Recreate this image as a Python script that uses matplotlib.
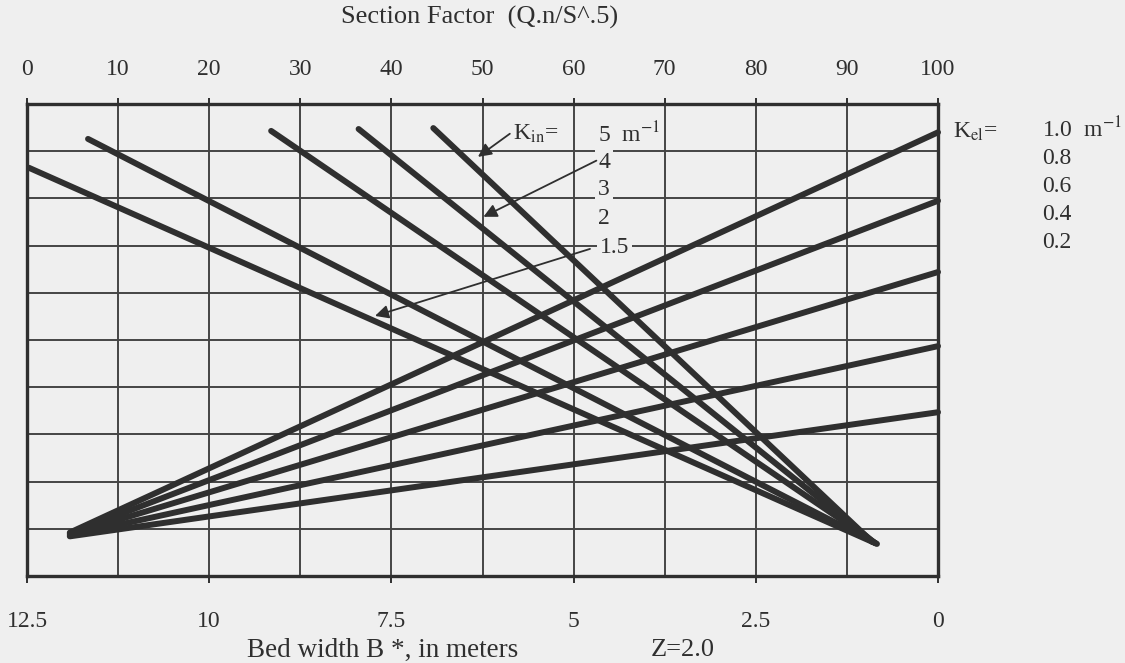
import matplotlib
matplotlib.use('Agg')
import matplotlib.pyplot as plt
import numpy as np

plt.rcParams['font.family'] = ['Liberation Serif', 'DejaVu Serif']
plt.rcParams['mathtext.fontset'] = 'stix'

# ---------------- data ----------------
section_factor_ticks = [0, 10, 20, 30, 40, 50, 60, 70, 80, 90, 100]
bed_width_ticks = [12.5, 10, 7.5, 5, 2.5, 0]
bed_width_labels = ['12.5', '10', '7.5', '5', '2.5', '0']
y_grid = [0, 1, 2, 3, 4, 5, 6, 7, 8, 9, 10]

# K_in family (descending lines): start point / end point in (section factor, chart units)
k_in_labels = ['5', '4', '3', '2', '1.5']
k_in_x0 = [44.6, 36.4, 26.8, 6.7, 0.2]
k_in_y0 = [9.49, 9.47, 9.43, 9.26, 8.65]
k_in_x1 = [92.8, 93.0, 93.1, 93.2, 93.3]
k_in_y1 = [0.72, 0.71, 0.70, 0.69, 0.68]

# K_el family (ascending lines)
k_el_labels = ['1.0', '0.8', '0.6', '0.4', '0.2']
k_el_x0 = [4.7, 4.7, 4.7, 4.7, 4.7]
k_el_y0 = [0.92, 0.90, 0.88, 0.86, 0.84]
k_el_x1 = [100, 100, 100, 100, 100]
k_el_y1 = [9.40, 7.95, 6.44, 4.87, 3.47]

paper = '#efefef'
ink = '#2f2f2f'

fig = plt.figure(figsize=(11.25, 6.63), dpi=100, facecolor=paper)
ax = fig.add_axes([27/1125, 1-576/663, (938-27)/1125, (576-104)/663])
ax.set_facecolor(paper)
ax.set_xlim(0, 100)
ax.set_ylim(0, 10)

# grid
ax.set_axisbelow(True)
ax.set_xticks(section_factor_ticks)
ax.set_yticks(y_grid)
ax.grid(True, color='#454545', lw=1.4)
ax.tick_params(axis='y', left=False, labelleft=False)
ax.xaxis.tick_top()
ax.tick_params(axis='x', top=True, bottom=False, direction='out', length=4,
               width=1.4, color=ink, pad=13, labelsize=17, labelcolor=ink)
for s in ax.spines.values():
    s.set_linewidth(2.4)
    s.set_color(ink)

# bottom axis : bed width
sec = ax.secondary_xaxis('bottom', functions=(lambda sf: 12.5 - 0.125 * np.asarray(sf),
                                              lambda b: (12.5 - np.asarray(b)) * 8.0))
sec.set_xticks(bed_width_ticks)
sec.set_xticklabels(bed_width_labels)
sec.tick_params(direction='out', length=5, width=1.4, color=ink, pad=20,
                labelsize=17, labelcolor=ink)
sec.spines['bottom'].set_visible(False)

# lines
for x0, y0, x1, y1 in zip(k_in_x0, k_in_y0, k_in_x1, k_in_y1):
    ax.plot([x0, x1], [y0, y1], color=ink, lw=4.3, solid_capstyle='round', zorder=3)
for x0, y0, x1, y1 in zip(k_el_x0, k_el_y0, k_el_x1, k_el_y1):
    ax.plot([x0, x1], [y0, y1], color=ink, lw=4.3, solid_capstyle='round', zorder=3,
            clip_on=False)

# K_in labels
box = dict(facecolor=paper, edgecolor='none', pad=2)
ax.text(53.3, 9.36, r'K$_{\mathrm{in}}$=', fontsize=17, color=ink, va='center', ha='left',
        bbox=box, zorder=1)
ax.text(62.7, 9.36, r'5  m$^{-1}$', fontsize=17, color=ink, va='center', ha='left',
        bbox=box, zorder=1)
ax.text(62.7, 8.77, k_in_labels[1], fontsize=17, color=ink, va='center', ha='left',
        bbox=box, zorder=1)
ax.text(62.7, 8.18, k_in_labels[2], fontsize=17, color=ink, va='center', ha='left',
        bbox=box, zorder=1)
ax.text(62.7, 7.58, k_in_labels[3], fontsize=17, color=ink, va='center', ha='left',
        bbox=box, zorder=1)
ax.text(62.9, 6.97, k_in_labels[4], fontsize=17, color=ink, va='center', ha='left',
        bbox=box, zorder=1)

arrow = dict(arrowstyle='-|>', lw=1.3, color=ink, mutation_scale=20, shrinkA=0, shrinkB=0)
ax.annotate('', xy=(49.5, 8.88), xytext=(53.0, 9.37), arrowprops=arrow, zorder=4)
ax.annotate('', xy=(50.1, 7.61), xytext=(62.5, 8.80), arrowprops=arrow, zorder=4)
ax.annotate('', xy=(38.2, 5.51), xytext=(61.8, 6.93), arrowprops=arrow, zorder=4)

# K_el labels (outside right)
fig.text(953/1125, 1-132/663, r'K$_{\mathrm{el}}$=', fontsize=17, color=ink, va='center', ha='left')
fig.text(1042/1125, 1-130/663, r'1.0  m$^{-1}$', fontsize=17, color=ink, va='center', ha='left')
for lab, yp in zip(k_el_labels[1:], [158, 187, 214, 243]):
    fig.text(1042/1125, 1-yp/663, lab, fontsize=17, color=ink, va='center', ha='left')

# titles
fig.text(480/1125, 1-17/663, 'Section Factor  (Q.n/S^.5)', fontsize=19, color=ink,
         ha='center', va='center')
fig.text(383/1125, 1-650/663, 'Bed width B *, in meters', fontsize=19.5, color=ink,
         ha='center', va='center')
fig.text(683/1125, 1-650/663, 'Z=2.0', fontsize=19, color=ink, ha='center', va='center')

fig.savefig('out.png', dpi=100, facecolor=paper)
